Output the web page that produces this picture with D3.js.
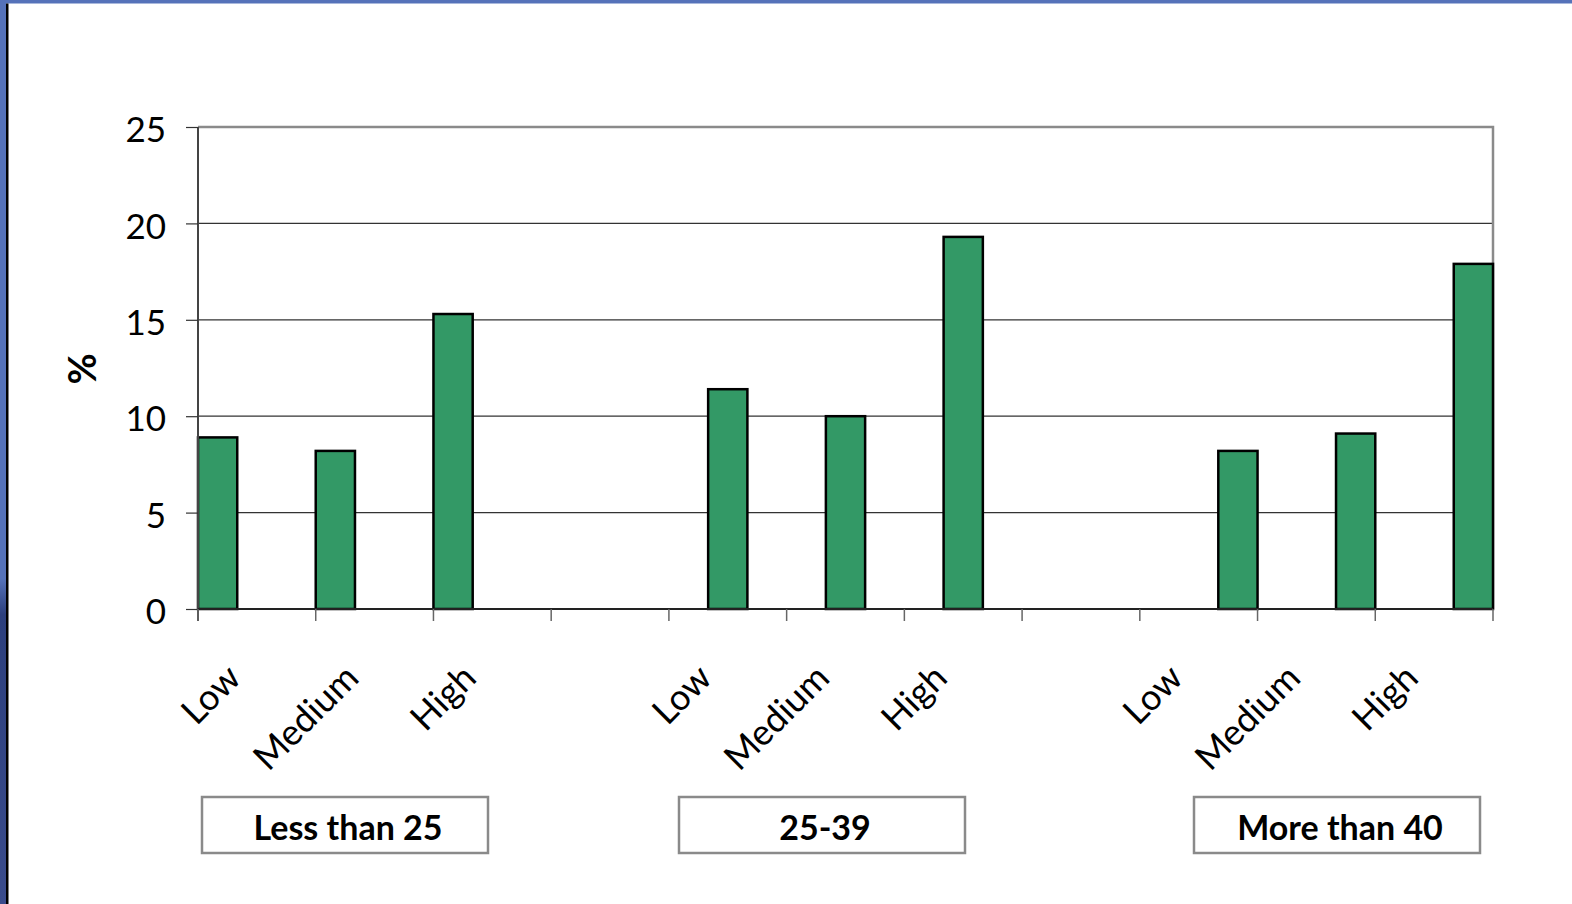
<!DOCTYPE html>
<html>
<head>
<meta charset="utf-8">
<title>% by group</title>
<script src="https://cdn.jsdelivr.net/npm/d3@7"></script>
<style>
  html, body { margin: 0; padding: 0; background: #fff; }
  svg { display: block; }
  svg text { font-family: Lato, "Noto Sans", sans-serif; }
</style>
</head>
<body>
<div id="chart"></div>
<script>
// categories along the x axis (blank slots separate the groups)
var categories = ["Low", "Medium", "High", "", "Low", "Medium", "High", "", "Low", "Medium", "High"];
var groups = ["Less than 25", "25-39", "More than 40"];
// each group's values sit in its own categories
var groupStart = [0, 4, 8];
var lessThan25 = [8.9, 8.2, 15.3];
var from25to39 = [11.4, 10.0, 19.3];
var moreThan40 = [8.2, 9.1, 17.9];
var yTicks = [0, 5, 10, 15, 20, 25];

var series = [lessThan25, from25to39, moreThan40];

var W = 1572, H = 904;
var margin = {top: 127, right: 79, bottom: 295, left: 198};
var width = W - margin.left - margin.right,
    height = H - margin.top - margin.bottom;

var svg = d3.select("#chart").append("svg")
    .attr("width", W)
    .attr("height", H);

// slide frame
var defs = svg.append("defs");
var grad = defs.append("linearGradient").attr("id", "side")
    .attr("x1", 0).attr("y1", 0).attr("x2", 0).attr("y2", 1);
grad.append("stop").attr("offset", "0.64").attr("stop-color", "#5572b9");
grad.append("stop").attr("offset", "0.68").attr("stop-color", "#2c3f7d");
grad.append("stop").attr("offset", "1").attr("stop-color", "#3a4c8c");
svg.append("rect").attr("x", 0).attr("y", 0).attr("width", W).attr("height", 3.5).attr("fill", "#5572b9");
svg.append("rect").attr("x", 0).attr("y", 0).attr("width", 6).attr("height", H).attr("fill", "url(#side)");
svg.append("rect").attr("x", 6).attr("y", 3.5).attr("width", 2.5).attr("height", H).attr("fill", "#000");

var g = svg.append("g").attr("transform", "translate(" + margin.left + "," + margin.top + ")");

var x = d3.scaleBand()
    .domain(d3.range(categories.length))
    .range([0, width])
    .padding(0);

var xs = d3.scaleBand()
    .domain(d3.range(series.length))
    .range([0, x.bandwidth()])
    .padding(0);

var y = d3.scaleLinear()
    .domain([0, 25])
    .range([height, 0]);

// gridlines
g.selectAll(".grid")
  .data(yTicks.filter(function(d) { return d > 0 && d < 25; }))
  .enter().append("line")
    .attr("x1", 0).attr("x2", width)
    .attr("y1", function(d) { return y(d); })
    .attr("y2", function(d) { return y(d); })
    .attr("stroke", "#333")
    .attr("stroke-width", 1.2);

// plot area border (top and right)
g.append("path")
    .attr("d", "M0," + y(25) + "H" + width + "V" + height)
    .attr("fill", "none")
    .attr("stroke", "#8a8a8a")
    .attr("stroke-width", 2.5);

// bars
var bars = [];
series.forEach(function(vals, s) {
  vals.forEach(function(v, i) {
    bars.push({s: s, cat: groupStart[s] + i, value: v});
  });
});

g.selectAll(".bar")
  .data(bars)
  .enter().append("rect")
    .attr("class", "bar")
    .attr("x", function(d) { return x(d.cat) + xs(d.s); })
    .attr("y", function(d) { return y(d.value); })
    .attr("width", xs.bandwidth())
    .attr("height", function(d) { return y(0) - y(d.value); })
    .attr("fill", "#339966")
    .attr("stroke", "#000")
    .attr("stroke-width", 2.5);

// y axis
var yAxis = g.append("g")
    .call(d3.axisLeft(y).tickValues(yTicks).tickSize(12).tickPadding(20));
yAxis.attr("font-family", null).attr("font-size", null);
yAxis.select(".domain").attr("stroke", "#444").attr("stroke-width", 2).attr("d", "M0," + (height + 12) + "V0");
yAxis.selectAll(".tick line").attr("stroke", "#333").attr("stroke-width", 1.2);
yAxis.selectAll("text")
    .attr("fill", "#000")
    .attr("dy", "0.42em")
    .style("font-size", "35px");

// x axis: ticks on category boundaries
var xAxis = g.append("g").attr("transform", "translate(0," + height + ")");
xAxis.append("line")
    .attr("x1", 0).attr("x2", width)
    .attr("stroke", "#222").attr("stroke-width", 2);
xAxis.selectAll(".xtick")
  .data(d3.range(categories.length + 1))
  .enter().append("line")
    .attr("x1", function(d) { return d * x.step(); })
    .attr("x2", function(d) { return d * x.step(); })
    .attr("y1", 0).attr("y2", 12)
    .attr("stroke", "#666").attr("stroke-width", 1.5);

xAxis.selectAll(".xlabel")
  .data(categories.map(function(c, i) { return {c: c, i: i}; }).filter(function(d) { return d.c; }))
  .enter().append("text")
    .attr("text-anchor", "end")
    .attr("transform", function(d) {
      return "translate(" + (x(d.i) + x.bandwidth() / 2 - 14) + ",71) rotate(-45)";
    })
    .style("font-size", "36px")
    .text(function(d) { return d.c; });

// y axis title
svg.append("text")
    .attr("transform", "translate(96,369) rotate(-90)")
    .attr("text-anchor", "middle")
    .style("font-size", "38px")
    .style("font-weight", "bold")
    .text("%");

// group label boxes
var boxLeft = [202, 679, 1194], boxW = 286, boxTop = 797, boxH = 56;
var box = svg.selectAll(".gbox")
  .data(groups)
  .enter().append("g")
    .attr("transform", function(d, i) { return "translate(" + boxLeft[i] + "," + boxTop + ")"; });
box.append("rect")
    .attr("width", boxW).attr("height", boxH)
    .attr("fill", "#fff")
    .attr("stroke", "#8a8a8a")
    .attr("stroke-width", 2.5);
box.append("text")
    .attr("x", boxW / 2 + 3)
    .attr("y", boxH / 2 + 15)
    .attr("text-anchor", "middle")
    .style("font-size", "34px")
    .style("font-weight", "bold")
    .text(function(d) { return d; });
</script>
</body>
</html>
